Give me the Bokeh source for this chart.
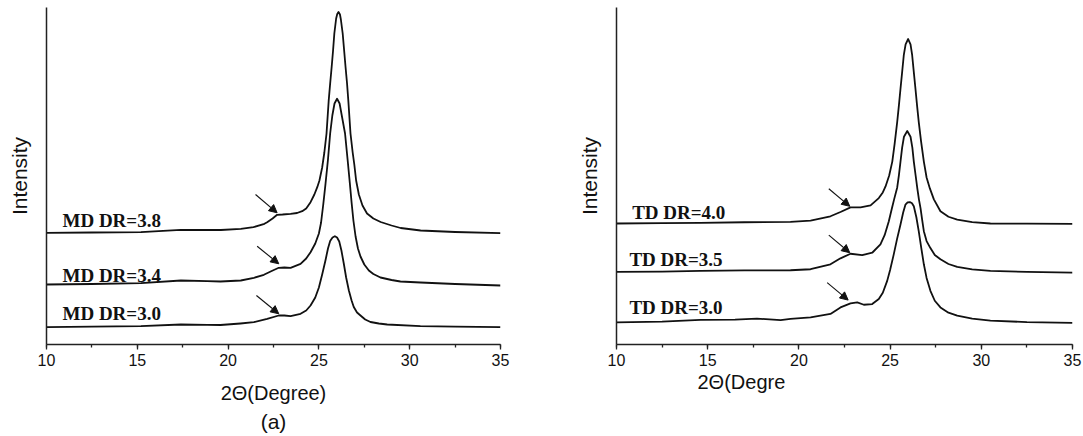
from bokeh.plotting import figure
from bokeh.layouts import row
from bokeh.models import Range1d, SingleIntervalTicker, FixedTicker, Arrow, NormalHead, Title, ColumnDataSource
from bokeh.core.properties import value
from bokeh.embed import file_html
from bokeh.resources import INLINE

# ---------------- data: left panel (MD), intensity in a.u. with vertical offsets ----------------
md38_x = [10.0, 12.5, 15.2, 17.4, 19.6, 20.7, 21.4, 22.0, 22.15, 22.45, 22.7, 23.0, 23.44, 23.8, 24.08,
          24.3, 24.54, 24.75, 24.91, 25.03, 25.18, 25.30, 25.42, 25.54, 25.62, 25.70, 25.78, 25.85,
          25.95, 26.01, 26.08, 26.16, 26.21, 26.31, 26.39, 26.47, 26.55, 26.62, 26.74, 26.86, 26.95,
          27.05, 27.2, 27.4, 27.65, 28.0, 28.4, 29.0, 29.5, 30.6, 32.5, 35.0]
md38_y = [111.7, 112.0, 112.3, 114.7, 114.5, 115.7, 117.3, 120.7, 122.3, 126.0, 129.7, 130.0, 130.7, 131.5, 133.3,
          136.0, 142.3, 150.0, 157.3, 164.0, 177.0, 192.0, 211.0, 244.0, 261.0, 277.0, 294.0, 311.0,
          326.0, 330.5, 332.5, 330.0, 325.0, 311.0, 294.0, 277.0, 261.0, 244.0, 211.0, 192.0, 180.0,
          164.0, 150.0, 139.0, 131.0, 126.0, 122.5, 119.0, 116.5, 114.0, 112.5, 111.3]

md34_x = [10.0, 12.5, 15.2, 17.4, 18.85, 19.58, 20.7, 21.42, 21.97, 22.4, 22.79, 23.1, 23.44, 23.99, 24.3,
          24.54, 24.8, 25.0, 25.12, 25.24, 25.36, 25.5, 25.62, 25.74, 25.86, 26.0, 26.14, 26.26, 26.44,
          26.58, 26.7, 26.8, 26.9, 27.02, 27.15, 27.29, 27.5, 27.75, 28.0, 28.39, 29.0, 29.49, 30.59,
          32.5, 35.0]
md34_y = [60.0, 60.5, 61.3, 64.0, 63.3, 63.0, 64.0, 66.7, 69.7, 73.5, 76.7, 77.0, 76.7, 80.7, 86.0,
          92.3, 101.0, 111.0, 122.0, 140.0, 160.0, 185.0, 211.0, 229.0, 241.0, 245.7, 241.0, 229.0, 211.0,
          185.0, 162.0, 142.0, 124.0, 108.0, 96.0, 88.0, 80.0, 74.0, 70.5, 67.0, 64.5, 63.0, 62.0,
          60.5, 59.0]

md30_x = [10.0, 12.5, 15.2, 17.4, 18.85, 19.58, 20.68, 21.42, 22.15, 22.79, 23.1, 23.44, 23.99, 24.3,
          24.54, 24.8, 25.0, 25.18, 25.36, 25.5, 25.62, 25.75, 25.88, 26.0, 26.12, 26.24, 26.37, 26.5,
          26.65, 26.8, 26.92, 27.1, 27.29, 27.55, 27.84, 28.3, 28.76, 30.59, 32.5, 35.0]
md30_y = [17.3, 17.8, 18.3, 20.0, 19.7, 19.5, 21.0, 22.3, 25.7, 29.0, 29.0, 28.3, 30.7, 34.0,
          39.0, 47.0, 57.0, 70.0, 84.0, 96.0, 103.5, 107.0, 108.3, 107.0, 103.0, 94.0, 81.0, 67.0,
          54.0, 44.0, 37.5, 32.0, 29.0, 25.0, 22.5, 21.0, 20.0, 18.3, 17.8, 17.3]

md_labels = ["MD DR=3.8", "MD DR=3.4", "MD DR=3.0"]
md_label_x = [10.88, 10.88, 10.88]
md_label_y = [124.5, 69.5, 31.5]

md_arrow_x0 = [21.51, 21.60, 21.56]
md_arrow_y0 = [150.0, 98.3, 49.0]
md_arrow_x1 = [22.70, 22.79, 22.79]
md_arrow_y1 = [131.7, 80.7, 30.7]

# ---------------- data: right panel (TD) ----------------
td40_x = [10.0, 12.5, 14.6, 17.0, 19.54, 20.64, 21.73, 22.28, 22.83, 23.38, 23.93, 24.38, 24.6, 24.75,
          24.95, 25.12, 25.25, 25.39, 25.48, 25.57, 25.66, 25.75, 25.85, 25.99, 26.12, 26.21, 26.3,
          26.39, 26.48, 26.57, 26.7, 26.85, 27.0, 27.18, 27.4, 27.76, 28.2, 28.68, 29.5, 30.5, 32.5, 35.0]
td40_y = [121.7, 122.0, 122.3, 123.0, 123.3, 124.7, 129.0, 133.3, 138.0, 138.0, 140.0, 147.3, 153.0, 159.0,
          170.0, 184.0, 202.0, 224.0, 240.0, 257.3, 274.0, 291.0, 302.0, 307.3, 302.0, 291.0, 274.0,
          257.3, 240.0, 224.0, 204.0, 184.0, 168.0, 157.0, 146.0, 134.0, 128.5, 125.7, 123.0, 121.7, 121.5, 121.3]

td35_x = [10.0, 12.5, 14.6, 17.0, 19.54, 20.64, 21.73, 22.28, 22.83, 23.47, 24.02, 24.47, 24.7, 24.93,
          25.1, 25.22, 25.39, 25.48, 25.57, 25.66, 25.76, 25.94, 26.12, 26.22, 26.3, 26.4, 26.49, 26.58,
          26.67, 26.76, 26.85, 27.0, 27.21, 27.45, 27.76, 28.2, 28.68, 29.5, 30.5, 32.5, 35.0]
td35_y = [73.0, 73.3, 74.0, 74.5, 74.7, 75.7, 80.7, 86.7, 91.3, 90.0, 92.3, 100.7, 110.0, 124.0,
          137.0, 146.0, 158.0, 170.0, 184.0, 198.0, 209.0, 214.7, 209.0, 198.0, 184.0, 170.0, 157.3, 146.0,
          137.0, 125.0, 114.0, 104.0, 97.0, 90.0, 85.7, 81.0, 78.0, 75.5, 74.0, 73.0, 72.3]

td30_x = [10.0, 12.5, 14.6, 16.5, 17.7, 19.0, 19.54, 20.64, 21.73, 22.28, 22.83, 23.2, 23.56, 24.02,
          24.38, 24.6, 24.84, 25.0, 25.2, 25.38, 25.57, 25.72, 25.84, 25.96, 26.08, 26.2, 26.3, 26.44,
          26.57, 26.71, 26.85, 27.0, 27.21, 27.45, 27.76, 28.2, 28.68, 29.5, 30.5, 32.5, 35.0]
td30_y = [22.3, 23.0, 24.7, 25.0, 26.0, 24.5, 25.7, 27.3, 30.7, 37.3, 41.3, 42.3, 40.0, 40.7,
          45.7, 52.0, 64.0, 75.0, 90.7, 106.0, 120.7, 133.0, 140.7, 143.0, 143.3, 142.0, 139.0, 128.0,
          114.0, 97.0, 80.7, 67.0, 54.0, 44.0, 37.3, 32.0, 29.0, 26.0, 24.0, 22.5, 21.7]

td_labels = ["TD DR=4.0", "TD DR=3.5", "TD DR=3.0"]
td_label_x = [10.86, 10.71, 10.71]
td_label_y = [132.5, 85.5, 37.5]

td_arrow_x0 = [21.64, 21.64, 21.55]
td_arrow_y0 = [156.7, 110.0, 62.3]
td_arrow_x1 = [22.79, 22.79, 22.70]
td_arrow_y1 = [139.0, 92.3, 44.7]

x_start, x_end = 10, 35

CURVE_COLOR = "#111111"
AXIS_COLOR = "#222222"


def make_panel(width, bl, br, bt, ytop, curves, labels, lx, ly, ax0, ay0, ax1, ay1, xlabel):
    p = figure(width=width, height=436, output_backend="svg", toolbar_location=None,
               x_range=Range1d(x_start, x_end), y_range=Range1d(0, ytop),
               min_border_left=bl, min_border_right=br, min_border_top=bt, min_border_bottom=92)
    p.outline_line_color = None
    p.xgrid.grid_line_color = None
    p.ygrid.grid_line_color = None
    p.background_fill_color = "white"
    p.border_fill_color = "white"

    for cx, cy in curves:
        p.line(cx, cy, line_color=CURVE_COLOR, line_width=1.8, line_join="round")

    src = ColumnDataSource(dict(x=lx, y=ly, t=labels))
    p.text(x="x", y="y", text="t", source=src, text_font=value("Liberation Serif"),
           text_font_style="bold", text_font_size="19px", text_color="#111111",
           text_baseline="middle", text_align="left")

    for i in range(len(ax0)):
        p.add_layout(Arrow(end=NormalHead(size=8, fill_color="#111111", line_color="#111111", line_width=1),
                           x_start=ax0[i], y_start=ay0[i], x_end=ax1[i], y_end=ay1[i],
                           line_color="#111111", line_width=1.1))

    xa = p.xaxis[0]
    xa.ticker = SingleIntervalTicker(interval=5, num_minor_ticks=2)
    xa.axis_line_color = AXIS_COLOR
    xa.axis_line_width = 1.5
    xa.major_tick_line_color = AXIS_COLOR
    xa.major_tick_line_width = 1.3
    xa.minor_tick_line_color = AXIS_COLOR
    xa.minor_tick_line_width = 1.3
    xa.major_tick_in = 0
    xa.major_tick_out = 5
    xa.minor_tick_in = 0
    xa.minor_tick_out = 3
    xa.major_label_text_font = "Liberation Sans"
    xa.major_label_text_font_size = "16px"
    xa.major_label_text_color = "#111111"
    xa.major_label_standoff = 4
    if xlabel:
        xa.axis_label = xlabel
        xa.axis_label_text_font = "Liberation Sans"
        xa.axis_label_text_font_size = "20px"
        xa.axis_label_text_font_style = "normal"
        xa.axis_label_text_color = "#111111"
        xa.axis_label_standoff = 13

    ya = p.yaxis[0]
    ya.ticker = FixedTicker(ticks=[])
    ya.axis_line_color = AXIS_COLOR
    ya.axis_line_width = 1.5
    ya.major_tick_line_color = None
    ya.minor_tick_line_color = None
    ya.axis_label = "Intensity"
    ya.axis_label_text_font = "Liberation Sans"
    ya.axis_label_text_font_size = "21px"
    ya.axis_label_text_font_style = "normal"
    ya.axis_label_text_color = "#111111"
    ya.axis_label_standoff = 16
    return p


p1 = make_panel(540, 46, 40, 7, 337,
                [(md38_x, md38_y), (md34_x, md34_y), (md30_x, md30_y)],
                md_labels, md_label_x, md_label_y,
                md_arrow_x0, md_arrow_y0, md_arrow_x1, md_arrow_y1, "2\u0398(Degree)")
p1.add_layout(Title(text="(a)", align="center", text_font="Liberation Sans", text_font_size="21px",
                    text_font_style="normal", text_color="#111111", standoff=2), "below")

p2 = make_panel(543, 76, 11, 5, 339,
                [(td40_x, td40_y), (td35_x, td35_y), (td30_x, td30_y)],
                td_labels, td_label_x, td_label_y,
                td_arrow_x0, td_arrow_y0, td_arrow_x1, td_arrow_y1, None)
p2.add_layout(Title(text="2\u0398(Degre", align="left", offset=81, text_font="Liberation Sans",
                    text_font_size="20px", text_font_style="normal", text_color="#111111", standoff=0), "below")

layout = row(p1, p2, spacing=0)
open("out.html", "w").write(file_html(layout, INLINE))
